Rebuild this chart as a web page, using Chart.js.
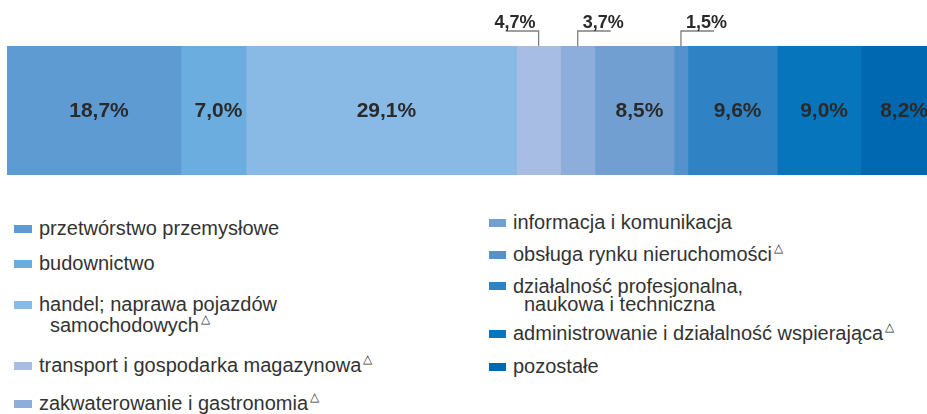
<!DOCTYPE html>
<html>
<head>
<meta charset="utf-8">
<script src="https://cdn.jsdelivr.net/npm/chart.js@4.4.1/dist/chart.umd.min.js"></script>
<style>
  body { margin: 0; background: #fff; width: 927px; height: 414px; overflow: hidden; position: relative; font-family: "Liberation Sans", Arial, sans-serif; }
  #chartBox { position: absolute; left: 0; top: 0; width: 927px; height: 190px; }
  .item { position: absolute; color: #333; font-size: 20px; white-space: nowrap; }
  .sw { position: absolute; left: 0; width: 18px; height: 8px; }
  .line2 { display: block; }
  sup { font-size: 12px; position: relative; top: -6px; vertical-align: top; margin-left: 2px; }
</style>
</head>
<body>
<div id="chartBox"><canvas id="chart" width="927" height="190"></canvas></div>
<div id="legend"></div>
<script>
// sectors, shares in %
const sectors = [
  "przetwórstwo przemysłowe",
  "budownictwo",
  "handel; naprawa pojazdów\nsamochodowych",
  "transport i gospodarka magazynowa",
  "zakwaterowanie i gastronomia",
  "informacja i komunikacja",
  "obsługa rynku nieruchomości",
  "działalność profesjonalna,\nnaukowa i techniczna",
  "administrowanie i działalność wspierająca",
  "pozostałe"
];
const shares = [18.7, 7.0, 29.1, 4.7, 3.7, 8.5, 1.5, 9.6, 9.0, 8.2];
const flagged = [false, false, true, true, true, false, true, false, true, false];

const colors = ["#5e9bd3", "#6badde", "#89bae5", "#a7bde3", "#8dadda",
                "#729fd2", "#5591cd", "#2f83c4", "#0775bb", "#0068b0"];

// small segments get a callout above the bar (-1 = text to the left)
const calloutDir = { 3: -1, 4: 1, 6: 1 };

// legend placement: [left, top, lineHeight, swatchLeftPad]
const legendPos = [
  [14, 218, 21, 25], [14, 253, 21, 25], [14, 294, 21, 25], [14, 355, 21, 25], [14, 393, 21, 25],
  [489, 212, 21, 24], [489, 244, 21, 24], [489, 277, 18, 24], [489, 323, 21, 24], [489, 356, 21, 24]
];

const fmt = v => v.toFixed(1).replace(".", ",") + "%";

const labelPlugin = {
  id: "segLabels",
  afterDatasetsDraw(chart) {
    const ctx = chart.ctx;
    ctx.save();
    chart.data.datasets.forEach((ds, i) => {
      const bar = chart.getDatasetMeta(i).data[0];
      const cx = (bar.x + bar.base) / 2;
      const v = ds.data[0];
      if (calloutDir[i] !== undefined) {
        const dir = calloutDir[i];
        const top = bar.y - bar.height / 2;
        ctx.strokeStyle = "#7f7f7f";
        ctx.lineWidth = 1.3;
        ctx.beginPath();
        ctx.moveTo(cx, top);
        ctx.lineTo(cx, 31);
        ctx.lineTo(cx + dir * 33, 31);
        ctx.stroke();
        ctx.fillStyle = "#2a2a2a";
        ctx.font = 'bold 18px "Liberation Sans Narrow", "Liberation Sans", sans-serif';
        ctx.textBaseline = "alphabetic";
        ctx.textAlign = dir < 0 ? "right" : "left";
        ctx.fillText(fmt(v), dir < 0 ? cx - 3 : cx + 5, 28);
      } else {
        ctx.fillStyle = "#2a2a2a";
        ctx.font = 'bold 21px "Liberation Sans", Arial, sans-serif';
        ctx.textAlign = "center";
        ctx.textBaseline = "middle";
        ctx.fillText(fmt(v), cx + 5, bar.y + 1);
      }
    });
    ctx.restore();
  }
};

new Chart(document.getElementById("chart"), {
  type: "bar",
  data: {
    labels: [""],
    datasets: sectors.map((s, i) => ({
      label: s,
      data: [shares[i]],
      backgroundColor: colors[i],
      borderWidth: 0,
      barPercentage: 1,
      categoryPercentage: 1
    }))
  },
  options: {
    indexAxis: "y",
    responsive: false,
    animation: false,
    devicePixelRatio: 1,
    layout: { padding: { left: 7, right: 0, top: 46, bottom: 15 } },
    scales: {
      x: { stacked: true, min: 0, max: 98.9, display: false },
      y: { stacked: true, display: false }
    },
    plugins: { legend: { display: false }, tooltip: { enabled: false } }
  },
  plugins: [labelPlugin]
});

// legend
const legend = document.getElementById("legend");
sectors.forEach((s, i) => {
  const [left, top, lh, pad] = legendPos[i];
  const div = document.createElement("div");
  div.className = "item";
  div.style.left = left + "px";
  div.style.top = top + "px";
  div.style.lineHeight = lh + "px";
  div.style.paddingLeft = pad + "px";
  const parts = s.split("\n");
  const mark = flagged[i] ? "<sup>△</sup>" : "";
  let html = `<span class="sw" style="background:${colors[i]};top:${lh / 2 - 4}px;width:${pad - 7}px"></span>`;
  if (parts.length > 1) {
    html += `<span>${parts[0]}</span><span class="line2" style="margin-left:11px">${parts[1]}${mark}</span>`;
  } else {
    html += `<span>${parts[0]}${mark}</span>`;
  }
  div.innerHTML = html;
  legend.appendChild(div);
});
</script>
</body>
</html>
